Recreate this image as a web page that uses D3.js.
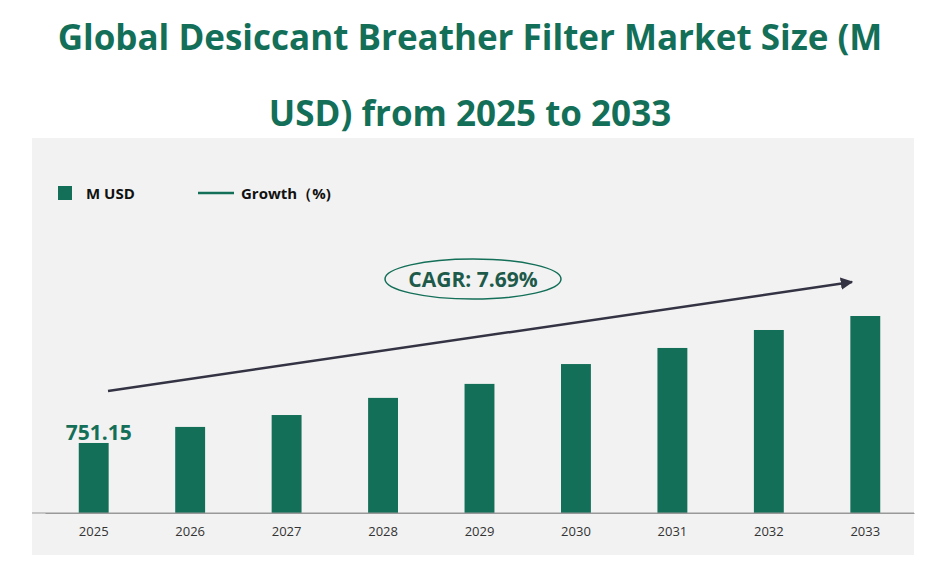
<!DOCTYPE html><html><head><meta charset="utf-8"><script src="https://cdn.jsdelivr.net/npm/d3@7"></script>
<style>body{margin:0;background:#fff}</style></head><body><svg id="c" width="940" height="567"></svg>
<script>
const years=["2025","2026","2027","2028","2029","2030","2031","2032","2033"];
const values=[751.15,828,885,967,1034,1129,1206,1292,1359];
const cagrLabel="CAGR: 7.69%";
const green="#136f58";
const svg=d3.select("#c");
svg.append("text").attr("x",470).attr("y",50).attr("text-anchor","middle").attr("font-family","Open Sans, Lato, sans-serif").attr("font-weight","bold").attr("font-size",35).attr("fill",green).text("Global Desiccant Breather Filter Market Size (M");
svg.append("text").attr("x",470).attr("y",126).attr("text-anchor","middle").attr("font-family","Open Sans, Lato, sans-serif").attr("font-weight","bold").attr("font-size",35).attr("fill",green).text("USD) from 2025 to 2033");
svg.append("rect").attr("x",32).attr("y",138).attr("width",882).attr("height",417).attr("fill","#f2f2f2");
const x=d3.scaleBand().domain(years).range([45,914]).paddingInner(0.69).paddingOuter(0.35);
const y=d3.scaleLinear().domain([416,1359]).range([513,316]);
svg.selectAll(".b").data(values).join("rect").attr("x",(d,i)=>x(years[i])).attr("width",x.bandwidth()).attr("y",d=>y(d)).attr("height",d=>513-y(d)).attr("fill",green);
const ax=svg.append("g").attr("transform","translate(0,513)").call(d3.axisBottom(x).tickSize(0).tickPadding(14));
ax.select(".domain").attr("stroke","#999");
ax.selectAll("text").attr("font-size",13).attr("fill","#333").attr("font-family","Open Sans, sans-serif");
svg.append("line").attr("x1",32).attr("x2",914).attr("y1",513).attr("y2",513).attr("stroke","#999");
svg.append("text").attr("x",x(years[0])+x.bandwidth()/2+5).attr("y",440).attr("text-anchor","middle").attr("font-family","Open Sans, sans-serif").attr("font-weight","bold").attr("font-size",21).attr("fill",green).text(values[0].toFixed(2));
svg.append("defs").append("marker").attr("id","ar").attr("viewBox","0 0 10 10").attr("refX",9).attr("refY",5).attr("markerWidth",5).attr("markerHeight",5).attr("orient","auto").append("path").attr("d","M0,0L10,5L0,10z").attr("fill","#333344");
svg.append("line").attr("x1",108).attr("y1",391).attr("x2",852).attr("y2",282).attr("stroke","#333344").attr("stroke-width",2.5).attr("marker-end","url(#ar)");
svg.append("ellipse").attr("cx",473).attr("cy",279).attr("rx",88).attr("ry",20).attr("fill","#f2f2f2").attr("stroke",green).attr("stroke-width",1.5);
svg.append("text").attr("x",473).attr("y",287).attr("text-anchor","middle").attr("font-family","Open Sans, sans-serif").attr("font-weight","bold").attr("font-size",21).attr("fill","#1d5a4a").text(cagrLabel);
svg.append("rect").attr("x",58).attr("y",186).attr("width",14).attr("height",14).attr("fill",green);
svg.append("text").attr("x",86).attr("y",199).attr("font-family","Open Sans, sans-serif").attr("font-weight","bold").attr("font-size",15).attr("fill","#111").text("M USD");
svg.append("line").attr("x1",198).attr("x2",234).attr("y1",193).attr("y2",193).attr("stroke",green).attr("stroke-width",2.5);
svg.append("text").attr("x",241).attr("y",199).attr("font-family","Open Sans, sans-serif").attr("font-weight","bold").attr("font-size",15).attr("fill","#111").text("Growth（%)");
</script></body></html>
